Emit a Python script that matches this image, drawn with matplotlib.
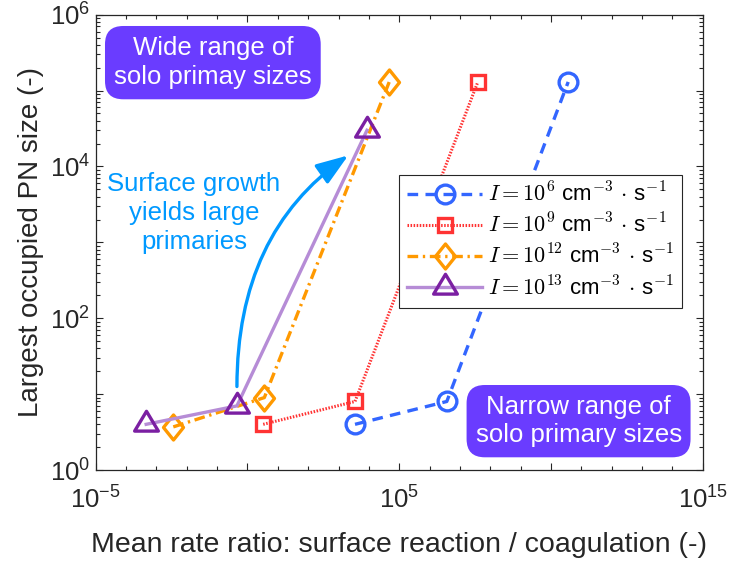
"""Largest occupied PN size vs mean surface-reaction/coagulation rate ratio."""

import matplotlib
matplotlib.use("Agg")
import matplotlib.pyplot as plt
import numpy as np
from matplotlib.patches import FancyBboxPatch
from matplotlib.path import Path
from matplotlib.ticker import FixedLocator, FuncFormatter, LogLocator, NullFormatter

# nucleation rates I (cm^-3 s^-1) and their runs
rate_exps = [6, 9, 12, 13]

ratio_i6 = [3.5e3, 3.7e6, 3.7e10]
size_i6 = [4, 8, 1.3e5]

ratio_i9 = [3.3, 3.5e3, 3.9e7]
size_i9 = [4, 8, 1.3e5]

ratio_i12 = [3.6e-3, 3.6, 4.7e4]
size_i12 = [3.7, 9, 1.3e5]

ratio_i13 = [4.6e-4, 0.45, 8.7e3]
size_i13 = [4, 7, 3.0e4]

x_major = [1e-5, 1e0, 1e5, 1e10, 1e15]
x_labelled = [-5, 5, 15]
y_major = [1e0, 1e1, 1e2, 1e3, 1e4, 1e5, 1e6]
y_labelled = [0, 2, 4, 6]

plt.rcParams["font.family"] = ["Liberation Sans", "DejaVu Sans"]

C_BLUE = "#3366ff"
C_RED = "#ff3333"
C_ORANGE = "#ff9900"
C_PURPLE = "#7b1fa2"
C_PURPLE_LINE = "#b68cd6"
C_NOTE = "#0099ff"
C_BOX = "#6a3cff"
C_AX = "#262626"

# MATLAB-like open markers
tri = Path([(0, 1.0), (-0.9, -0.5), (0.9, -0.5), (0, 1.0)],
           [Path.MOVETO, Path.LINETO, Path.LINETO, Path.CLOSEPOLY])
dia = Path([(0, 1), (0.8, 0), (0, -1), (-0.8, 0), (0, 1)],
           [Path.MOVETO, Path.LINETO, Path.LINETO, Path.LINETO, Path.CLOSEPOLY])

fig = plt.figure(figsize=(7.3, 5.61), dpi=100)
ax = fig.add_axes([0.1311, 0.1622, 0.8315, 0.8116])

lab = [r"$I = 10^{%d}$ cm$^{-3}\,\cdot\,$s$^{-1}$" % e for e in rate_exps]
ax.plot(ratio_i6, size_i6, ls=(0, (3.2, 2.2)), lw=2.4, color=C_BLUE, marker="o",
        ms=13.5, mfc="none", mec=C_BLUE, mew=2.4, label=lab[0])
ax.plot(ratio_i9, size_i9, ls=(0, (0.5, 0.5)), lw=2.2, color=C_RED, marker="s",
        ms=10, mfc="none", mec=C_RED, mew=2.4, label=lab[1])
ax.plot(ratio_i12, size_i12, ls=(0, (3.2, 1.4, 0.7, 1.4)), lw=2.4, color=C_ORANGE,
        marker=dia, ms=18, mfc="none", mec=C_ORANGE, mew=2.4, label=lab[2])
ax.plot(ratio_i13, size_i13, ls="-", lw=2.4, color=C_PURPLE_LINE, marker=tri,
        ms=19, mfc="none", mec=C_PURPLE, mew=2.4, label=lab[3])

ax.set_xscale("log")
ax.set_yscale("log")
ax.set_xlim(1e-5, 1e15)
ax.set_ylim(1e0, 1e6)

ax.xaxis.set_major_locator(FixedLocator(x_major))
ax.xaxis.set_major_formatter(FuncFormatter(
    lambda v, p: r"$\mathdefault{10^{%d}}$" % round(np.log10(v))
    if round(np.log10(v)) in x_labelled else ""))
ax.xaxis.set_minor_locator(LogLocator(base=10, subs=(1.0,), numticks=40))
ax.xaxis.set_minor_formatter(NullFormatter())

ax.yaxis.set_major_locator(FixedLocator(y_major))
ax.yaxis.set_major_formatter(FuncFormatter(
    lambda v, p: r"$\mathdefault{10^{%d}}$" % round(np.log10(v))
    if round(np.log10(v)) in y_labelled else ""))
ax.yaxis.set_minor_locator(LogLocator(base=10, subs=np.arange(2, 10), numticks=40))
ax.yaxis.set_minor_formatter(NullFormatter())

ax.tick_params(which="both", direction="in", top=True, right=True,
               color=C_AX, width=0.8, labelcolor=C_AX, labelsize=18.5, pad=4)
ax.tick_params(axis="x", which="both", pad=12)
ax.tick_params(which="major", length=5)
ax.tick_params(which="minor", length=3)
for s in ax.spines.values():
    s.set_color(C_AX)
    s.set_linewidth(0.9)

ax.set_xlabel("Mean rate ratio: surface reaction / coagulation (-)",
              fontsize=20.5, color=C_AX, labelpad=13)
ax.set_ylabel("Largest occupied PN size (-)", fontsize=20, color=C_AX, labelpad=4)

leg = ax.legend(loc="upper left", bbox_to_anchor=(0.4997, 0.648), borderaxespad=0,
                prop={"size": 16, "math_fontfamily": "cm"}, fancybox=False,
                framealpha=1, edgecolor=C_AX, handlelength=3.4, handletextpad=0.25,
                labelspacing=0.32, borderpad=0.35)
leg.get_frame().set_linewidth(0.8)

# highlighted notes
asp = 607 / 455.3
for (x0, y0, w, h) in [(0.0153, 0.8142, 0.3554, 0.161), (0.611, 0.0279, 0.369, 0.1588)]:
    ax.add_patch(FancyBboxPatch((x0, y0), w, h, transform=ax.transAxes,
                                boxstyle="round,pad=0,rounding_size=0.03",
                                mutation_aspect=asp, fc=C_BOX, ec="none", zorder=4))
ax.text(0.193, 0.895, "Wide range of\nsolo primay sizes", transform=ax.transAxes,
        ha="center", va="center", color="white", fontsize=18.5, linespacing=1.25,
        zorder=5)
ax.text(0.7957, 0.1074, "Narrow range of\nsolo primary sizes", transform=ax.transAxes,
        ha="center", va="center", color="white", fontsize=18.5, linespacing=1.25,
        zorder=5)

ax.text(0.162, 0.564, "Surface growth\nyields large\nprimaries", transform=ax.transAxes,
        ha="center", va="center", color=C_NOTE, fontsize=18.5, linespacing=1.25)
ax.annotate("", xy=(2.1e3, 1.4e4), xytext=(0.45, 12.6),
            arrowprops=dict(arrowstyle="-|>,head_length=1.4,head_width=0.5",
                            connectionstyle="angle3,angleA=90,angleB=35",
                            color=C_NOTE, lw=2.4, mutation_scale=14,
                            shrinkA=0, shrinkB=0))

fig.savefig("out.png", dpi=100)
